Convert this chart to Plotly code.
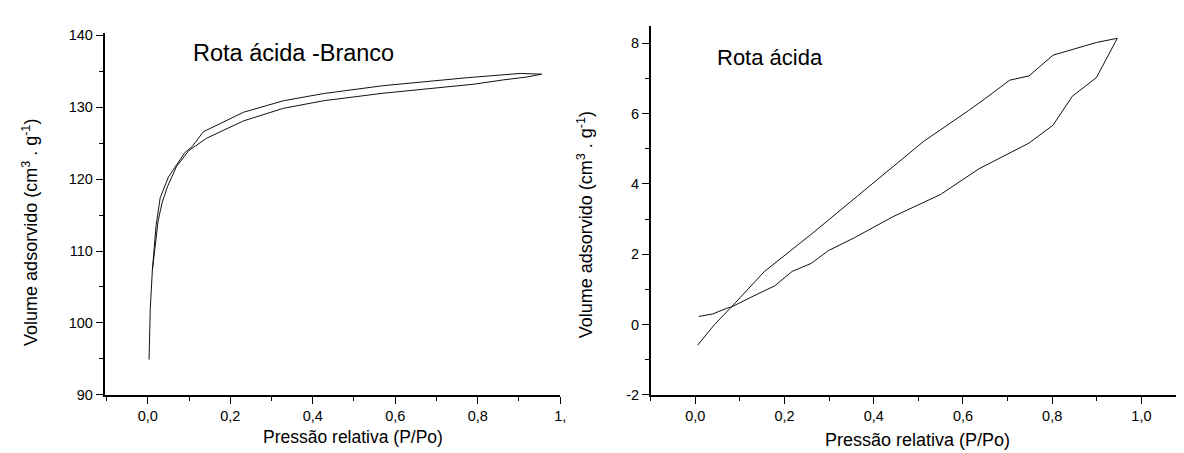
import plotly.graph_objects as go

# ---- Left panel: "Rota ácida -Branco" ----
left_ads_p = [0.003, 0.006, 0.011, 0.018, 0.025, 0.035, 0.048, 0.07, 0.1, 0.143, 0.232, 0.329, 0.426, 0.571, 0.725, 0.79, 0.862, 0.919, 0.955]
left_ads_v = [94.9, 102.0, 107.3, 110.7, 114.2, 116.8, 119.0, 121.8, 124.0, 125.7, 128.1, 129.85, 130.9, 131.95, 132.86, 133.2, 133.8, 134.2, 134.6]
left_des_p = [0.955, 0.903, 0.773, 0.571, 0.426, 0.329, 0.232, 0.135, 0.107, 0.09, 0.05, 0.03, 0.02, 0.011]
left_des_v = [134.6, 134.7, 134.1, 133.0, 131.9, 130.9, 129.3, 126.6, 124.5, 123.7, 120.3, 117.4, 113.5, 107.3]

# ---- Right panel: "Rota ácida" ----
right_ads_p = [0.008, 0.039, 0.07, 0.081, 0.14, 0.178, 0.217, 0.26, 0.298, 0.357, 0.442, 0.55, 0.636, 0.748, 0.802, 0.845, 0.899, 0.946]
right_ads_v = [0.23, 0.30, 0.46, 0.50, 0.87, 1.10, 1.51, 1.74, 2.10, 2.47, 3.06, 3.70, 4.43, 5.16, 5.67, 6.49, 7.02, 8.14]
right_des_p = [0.946, 0.899, 0.802, 0.748, 0.705, 0.647, 0.612, 0.512, 0.450, 0.364, 0.264, 0.236, 0.155, 0.081, 0.043, 0.005]
right_des_v = [8.14, 8.02, 7.66, 7.07, 6.95, 6.40, 6.08, 5.21, 4.57, 3.66, 2.61, 2.33, 1.51, 0.50, 0.0, -0.59]

x_tickvals = [0.0, 0.2, 0.4, 0.6, 0.8, 1.0]
left_x_ticktext = ["0,0", "0,2", "0,4", "0,6", "0,8", "1,"]
right_x_ticktext = ["0,0", "0,2", "0,4", "0,6", "0,8", "1,0"]
left_y_tickvals = [90, 100, 110, 120, 130, 140]
left_y_ticktext = ["90", "100", "110", "120", "130", "140"]
right_y_tickvals = [-2, 0, 2, 4, 6, 8]
right_y_ticktext = ["-2", "0", "2", "4", "6", "8"]

title_left = "Rota ácida -Branco"
title_right = "Rota ácida"
xlabel = "Pressão relativa (P/Po)"
ylabel = "Volume adsorvido (cm<sup>3</sup> . g<sup>-1</sup>)"

W, H = 1184, 453
FONT = "Liberation Sans, Arial, sans-serif"
line = dict(color="#111111", width=1)

fig = go.Figure()
fig.add_trace(go.Scatter(x=left_ads_p + left_des_p, y=left_ads_v + left_des_v,
                         mode="lines", line=line, xaxis="x", yaxis="y", showlegend=False))
fig.add_trace(go.Scatter(x=right_ads_p + right_des_p, y=right_ads_v + right_des_v,
                         mode="lines", line=line, xaxis="x2", yaxis="y2", showlegend=False))

def px_x(v):
    return v / W

def px_y(v):
    return (H - v) / H

axis_common = dict(showline=True, linecolor="black", linewidth=1.5, ticks="outside",
                   ticklen=7, tickwidth=1.2, tickcolor="black", showgrid=False,
                   zeroline=False, mirror=False,
                   tickfont=dict(family=FONT, size=14.5, color="black"))
minor_common = dict(ticks="outside", ticklen=4, tickcolor="black", tickwidth=1.2)

fig.update_layout(
    width=W, height=H,
    margin=dict(l=0, r=0, t=0, b=0),
    paper_bgcolor="white", plot_bgcolor="white",
    font=dict(family=FONT, color="black"),
    xaxis=dict(domain=[px_x(97), px_x(555)], range=[-0.105, 1.0], anchor="y",
               tickmode="array", tickvals=x_tickvals, ticktext=left_x_ticktext,
               minor=dict(dtick=0.1, tick0=0, **minor_common),
               **axis_common),
    yaxis=dict(domain=[px_y(393), px_y(20)], range=[90, 140.27], anchor="x",
               tickmode="array", tickvals=left_y_tickvals, ticktext=left_y_ticktext,
               minor=dict(dtick=5, tick0=90, **minor_common),
               **axis_common),
    xaxis2=dict(domain=[px_x(646), px_x(1184)], range=[-0.1, 1.1], anchor="y2",
                tickmode="array", tickvals=x_tickvals, ticktext=right_x_ticktext,
                minor=dict(dtick=0.1, tick0=0, **minor_common),
                **axis_common),
    yaxis2=dict(domain=[px_y(393), px_y(12)], range=[-2, 8.5], anchor="x2",
                tickmode="array", tickvals=right_y_tickvals, ticktext=right_y_ticktext,
                minor=dict(dtick=1, tick0=0, **minor_common),
                **axis_common),
)

ann = [
    dict(text=title_left, x=px_x(287), y=px_y(40), font=dict(size=23.5)),
    dict(text=title_right, x=px_x(766), y=px_y(45), font=dict(size=22)),
    dict(text=xlabel, x=px_x(347), y=px_y(437), font=dict(size=17.5)),
    dict(text=xlabel, x=px_x(914), y=px_y(440), font=dict(size=18)),
    dict(text=ylabel, x=px_x(22), y=px_y(225), font=dict(size=18), textangle=-90),
    dict(text=ylabel, x=px_x(580), y=px_y(218), font=dict(size=18), textangle=-90),
]
for a in ann:
    a.update(xref="paper", yref="paper", showarrow=False, xanchor="center", yanchor="middle")
    a["font"].update(family=FONT, color="black")
    fig.add_annotation(**a)

fig.write_html("out.html")
